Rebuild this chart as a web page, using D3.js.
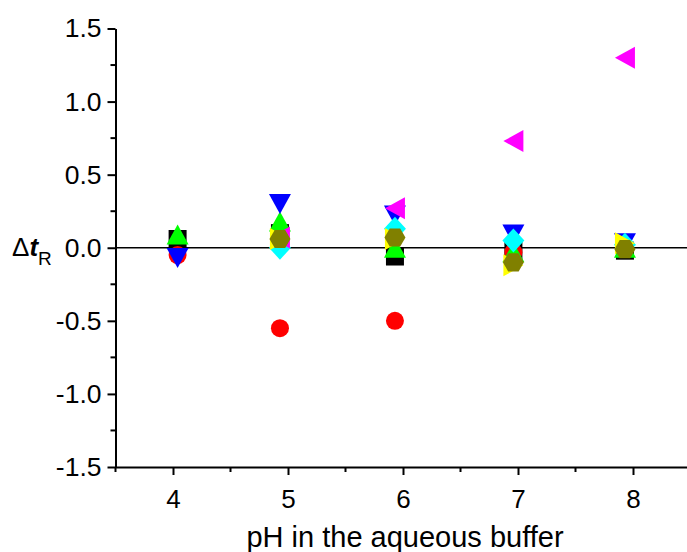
<!DOCTYPE html>
<html>
<head>
<meta charset="utf-8">
<title>delta tR vs pH</title>
<script src="https://d3js.org/d3.v7.min.js"></script>
<style>
    body { margin: 0; background: #fff; }
    text { font-family: Arial, "Liberation Sans", sans-serif; fill: #000; }
    .axis path, .axis line { stroke: #000; stroke-width: 2px; }
</style>
</head>
<body>
<script>
// measured pH of each buffer
const pH = [4.04, 4.93, 5.93, 6.96, 7.93];

// delta tR for every analyte (null = no point)
const blackSq   = [0.06, 0.10, -0.06, -0.02, -0.02];
const redCircle = [-0.05, -0.55, -0.50, -0.03, 0.00];
const greenUp   = [0.09, 0.18, 0.00, -0.03, 0.00];
const blueDown  = [-0.07, 0.30, 0.22, 0.09, 0.03];
const cyanDia   = [null, 0.00, 0.13, 0.05, 0.02];
const magLeft   = [null, 0.07, 0.27, 0.73, 1.30];
const yelRight  = [null, 0.06, 0.06, -0.12, 0.03];
const oliveHex  = [null, 0.06, 0.07, -0.10, -0.01];

const xTicks = [4, 5, 6, 7, 8];
const xMinor = [3.5, 4.5, 5.5, 6.5, 7.5];
const yTicks = [-1.5, -1.0, -0.5, 0.0, 0.5, 1.0, 1.5];
const yTickLabels = ["-1.5", "-1.0", "-0.5", "0.0", "0.5", "1.0", "1.5"];
const yMinor = [-1.25, -0.75, -0.25, 0.25, 0.75, 1.25];

const W = 687, H = 552;

// marker shapes, drawn around (0,0)
function shape(kind) {
    let p = d3.path();
    if (kind == "square") { p.rect(-9, -9, 18, 18); }
    else if (kind == "circle") { p.arc(0, 0, 9, 0, 2 * Math.PI); }
    else if (kind == "up") { p.moveTo(0, -10); p.lineTo(11, 10); p.lineTo(-11, 10); p.closePath(); }
    else if (kind == "down") { p.moveTo(0, 10); p.lineTo(11, -10); p.lineTo(-11, -10); p.closePath(); }
    else if (kind == "left") { p.moveTo(-10, 0); p.lineTo(10, -11); p.lineTo(10, 11); p.closePath(); }
    else if (kind == "right") { p.moveTo(10, 0); p.lineTo(-10, -11); p.lineTo(-10, 11); p.closePath(); }
    else if (kind == "diamond") { p.moveTo(0, -12); p.lineTo(11, 0); p.lineTo(0, 12); p.lineTo(-11, 0); p.closePath(); }
    else if (kind == "hex") {
        for (let i = 0; i < 6; i++) {
            let a = i * Math.PI / 3;
            let px = 10.5 * Math.cos(a), py = 10.5 * Math.sin(a);
            if (i == 0) p.moveTo(px, py); else p.lineTo(px, py);
        }
        p.closePath();
    }
    return p.toString();
}

const series = [
    { values: blackSq,   kind: "square",  color: "#000000" },
    { values: redCircle, kind: "circle",  color: "#ff0000" },
    { values: greenUp,   kind: "up",      color: "#00ff00" },
    { values: blueDown,  kind: "down",    color: "#0000ff" },
    { values: cyanDia,   kind: "diamond", color: "#00ffff" },
    { values: magLeft,   kind: "left",    color: "#ff00ff" },
    { values: yelRight,  kind: "right",   color: "#ffff00" },
    { values: oliveHex,  kind: "hex",     color: "#808000" }
];

let svg = d3.select("body").append("svg")
    .attr("width", W)
    .attr("height", H);

let x = d3.scaleLinear().domain([3.5, 8.5]).range([115.5, 690.5]);
let y = d3.scaleLinear().domain([-1.5, 1.5]).range([467, 28.5]);

// zero line
svg.append("line")
    .attr("x1", x(3.5)).attr("x2", W)
    .attr("y1", y(0)).attr("y2", y(0))
    .attr("stroke", "#000").attr("stroke-width", 1.3);

// markers
series.forEach(s => {
    svg.append("g")
        .selectAll("path")
        .data(pH.map((p, i) => [p, s.values[i]]).filter(d => d[1] !== null))
        .join("path")
        .attr("d", shape(s.kind))
        .attr("transform", d => `translate(${x(d[0])},${y(d[1])})`)
        .attr("fill", s.color);
});

// x axis
let xAxis = svg.append("g")
    .attr("class", "axis")
    .attr("transform", `translate(0,${y(-1.5)})`)
    .call(d3.axisBottom(x).tickValues(xTicks).tickFormat(d3.format("d"))
        .tickSizeInner(8).tickSizeOuter(0).tickPadding(15));
xAxis.selectAll("text").style("font-size", "26px");
xAxis.append("g")
    .selectAll("line")
    .data(xMinor)
    .join("line")
    .attr("x1", d => x(d)).attr("x2", d => x(d))
    .attr("y1", 0).attr("y2", 5);

// y axis
let yAxis = svg.append("g")
    .attr("class", "axis")
    .attr("transform", `translate(${x(3.5)},0)`)
    .call(d3.axisLeft(y).tickValues(yTicks).tickFormat((d, i) => yTickLabels[i])
        .tickSizeInner(8).tickSizeOuter(0).tickPadding(6));
yAxis.selectAll("text").style("font-size", "26.5px");
yAxis.append("g")
    .selectAll("line")
    .data(yMinor)
    .join("line")
    .attr("y1", d => y(d)).attr("y2", d => y(d))
    .attr("x1", 0).attr("x2", -5);

// axis titles
svg.append("text")
    .attr("x", 405).attr("y", 547)
    .attr("text-anchor", "middle")
    .style("font-size", "29px")
    .text("pH in the aqueous buffer");

let yl = svg.append("text")
    .attr("x", 12).attr("y", y(0) + 8)
    .style("font-size", "26px");
yl.append("tspan").text("Δ");
yl.append("tspan").style("font-style", "italic").style("font-weight", "bold").text("t");
yl.append("tspan").attr("dy", 9).style("font-size", "19px").text("R");
</script>
</body>
</html>
